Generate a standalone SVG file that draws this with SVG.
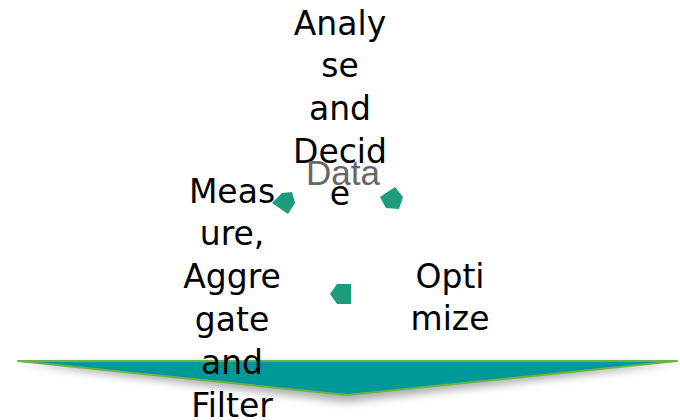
<svg xmlns="http://www.w3.org/2000/svg" width="680" height="420" viewBox="0 0 680 420">
<style>
.lbl{font-family:"DejaVu Sans",Verdana,sans-serif;font-size:33px;fill:#000;text-anchor:middle}
.data{font-family:"Liberation Sans",Arial,sans-serif;font-size:35px;fill:#666;text-anchor:middle}
.head{fill:#1B9C7D}
</style>
<defs>
<filter id="sh" x="-10%" y="-50%" width="120%" height="250%">
<feGaussianBlur stdDeviation="4"/>
</filter>
</defs>
<rect width="680" height="420" fill="#fff"/>
<g id="base-arrow">
<polygon points="22,364 675,364 347,402" fill="#888" opacity="0.7" filter="url(#sh)"/>
<polygon points="18,361 677,361 347,395" fill="#009999" stroke="#6DB33F" stroke-width="2" stroke-linejoin="round"/>
</g>
<g id="node-analyse">
<text class="lbl" x="340" y="35">Analy</text>
<text class="lbl" x="340" y="77">se</text>
<text class="lbl" x="340" y="120">and</text>
<text class="lbl" x="340" y="163">Decid</text>
<text class="lbl" x="340" y="205">e</text>
</g>
<g id="node-measure">
<text class="lbl" x="232" y="203">Meas</text>
<text class="lbl" x="232" y="245">ure,</text>
<text class="lbl" x="232" y="288">Aggre</text>
<text class="lbl" x="232" y="331">gate</text>
<text class="lbl" x="232" y="374">and</text>
<text class="lbl" x="232" y="417">Filter</text>
</g>
<g id="node-optimize">
<text class="lbl" x="450" y="288">Opti</text>
<text class="lbl" x="450" y="330">mize</text>
</g>
<g id="node-data">
<text class="data" x="343" y="185">Data</text>
</g>
<g id="connectors">
<polygon class="head" points="272,203 282,193 292,192 295,203 288,214"/>
<polygon class="head" points="380,197 395,187 403,197 399,209 386,208"/>
<polygon class="head" points="330,294 337,284 351,284 351,304 337,304"/>
</g>
</svg>
